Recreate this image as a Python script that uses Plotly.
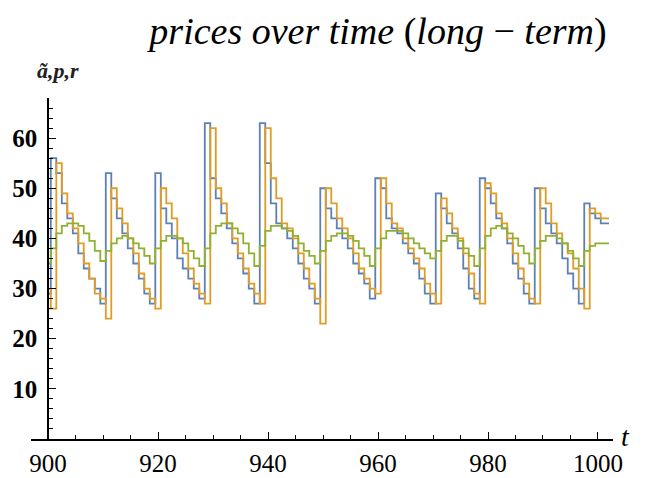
import plotly.graph_objects as go

# time axis (one step per period)
t = list(range(900, 1003))

# series values
a_tilde = [29,
           56, 53, 47, 44, 41, 37, 34, 32, 30, 27,
           53, 48, 44, 41, 38, 35, 32, 29, 27,
           53, 46, 43, 40, 36, 34, 32, 30, 28,
           63, 52, 48, 45, 42, 39, 36, 33, 30, 27,
           63, 55, 47, 43, 42, 40, 38, 35, 32, 30, 27,
           50, 46, 44, 42, 40, 38, 35, 33, 31, 28,
           52, 50, 44, 42, 41, 39, 37, 35, 32, 29, 27,
           49, 46, 43, 41, 38, 34, 30, 28,
           52, 50, 47, 44, 42, 39, 35, 32, 29, 27,
           50, 46, 43, 41, 39, 36, 33, 30, 27,
           47, 45, 44, 43, 43]

p = [30, 26,
     55, 49, 45, 42, 39, 35, 32, 29, 28, 24,
     50, 46, 43, 40, 37, 33, 30, 28, 26,
     50, 47, 44, 40, 37, 34, 31, 29, 27,
     62, 50, 47, 43, 40, 37, 34, 31, 29, 27,
     62, 52, 48, 43, 42, 40, 37, 34, 31, 28, 23,
     50, 47, 44, 42, 40, 37, 34, 32, 30, 29,
     52, 47, 43, 42, 40, 38, 36, 34, 31, 29, 27,
     48, 45, 42, 40, 37, 33, 29, 27,
     51, 49, 45, 43, 40, 37, 34, 31, 28, 27,
     50, 47, 43, 41, 39, 37, 34, 30, 26,
     46, 45, 44, 44]

r = [35,
     38, 41, 42.5, 43, 43, 42.5, 41, 39.5, 37.5, 35.5,
     37.5, 39, 40, 40.5, 40, 39, 38, 36.5, 35,
     38, 39.5, 40.5, 40.5, 40, 39, 37.5, 36, 34.5,
     38, 41, 42.5, 43, 43, 42, 41, 39, 37, 34.5,
     38.5, 41.5, 42.5, 42.5, 42, 41.5, 40.5, 39, 37.5, 36.5, 35,
     37.5, 39.5, 40.5, 41, 41, 40.5, 39.5, 38, 36.5, 34.5,
     38, 40, 41.5, 41.5, 41.5, 41, 40, 39, 38, 37, 36,
     37.5, 39.5, 40.5, 40.5, 39.5, 38, 36.5, 34.5,
     38, 40.5, 42, 42.5, 42, 41, 40, 38.5, 37, 35,
     38, 39.5, 40.5, 40.5, 40, 39, 37.5, 36, 34.5,
     37.5, 38.5, 39, 39, 39]

x_ticks = [900, 920, 940, 960, 980, 1000]
y_ticks = [10, 20, 30, 40, 50, 60]

x_range = [896.9, 1002.73]
y_range = [0, 68]

colors = ["#5E81B5", "#E19C24", "#8FB032"]
SERIF = "Liberation Serif"

L, R, T, B = 23, 44, 90, 47
PW, PH = 649 - L - R, 478 - T - B

fig = go.Figure()
for ys, c, name in [(a_tilde, colors[0], "ã"), (p, colors[1], "p"), (r, colors[2], "r")]:
    # centred steps: the value changes halfway between two sample times
    fig.add_trace(go.Scatter(x=t[:len(ys)], y=ys, mode="lines", line_shape="hvh",
                             line=dict(color=c, width=1.8), name=name,
                             showlegend=False))

fig.update_layout(
    width=649, height=478,
    margin=dict(l=L, r=R, t=T, b=B),
    paper_bgcolor="white", plot_bgcolor="white",
    font=dict(family=SERIF, color="black"),
    title=dict(text="<i>prices over time</i> (<i>long</i> − <i>term</i>)",
               x=370 / 649, y=1 - 23 / 478, xanchor="center", yanchor="middle",
               font=dict(family=SERIF, size=38, color="black")),
    xaxis=dict(range=x_range, showgrid=False, zeroline=False, automargin=False,
               showline=True, linecolor="black", linewidth=1.5,
               tickvals=x_ticks, ticks="inside", ticklen=7, tickwidth=1.3, tickcolor="black",
               minor=dict(dtick=5, tick0=900, ticks="inside", ticklen=4, tickwidth=1.2, tickcolor="black"),
               tickfont=dict(family=SERIF, size=25, color="black"), ticklabelstandoff=1),
    yaxis=dict(range=y_range, showgrid=False, zeroline=False, automargin=False,
               anchor="free", position=(900 - x_range[0]) / (x_range[1] - x_range[0]),
               showline=True, linecolor="black", linewidth=1.5,
               tickvals=y_ticks, ticks="inside", ticklen=7, tickwidth=1.3, tickcolor="black",
               minor=dict(dtick=2, tick0=0, ticks="inside", ticklen=4, tickwidth=1.2, tickcolor="black"),
               tickfont=dict(family=SERIF, size=25, color="black", weight="bold"), ticklabelstandoff=5),
    annotations=[
        dict(text="<b><i>ã,p,r</i></b>", xref="paper", yref="paper",
             x=(50 - L) / PW, y=(478 - B - 62) / PH, xanchor="center", yanchor="middle",
             showarrow=False,
             font=dict(family=SERIF, size=22, color="#222")),
        dict(text="<i>t</i>", xref="paper", yref="paper",
             x=(611 - L) / PW, y=(478 - B - 428) / PH, xanchor="left", yanchor="middle",
             showarrow=False,
             font=dict(family=SERIF, size=28, color="black")),
    ],
)

fig.write_html("out.html")
